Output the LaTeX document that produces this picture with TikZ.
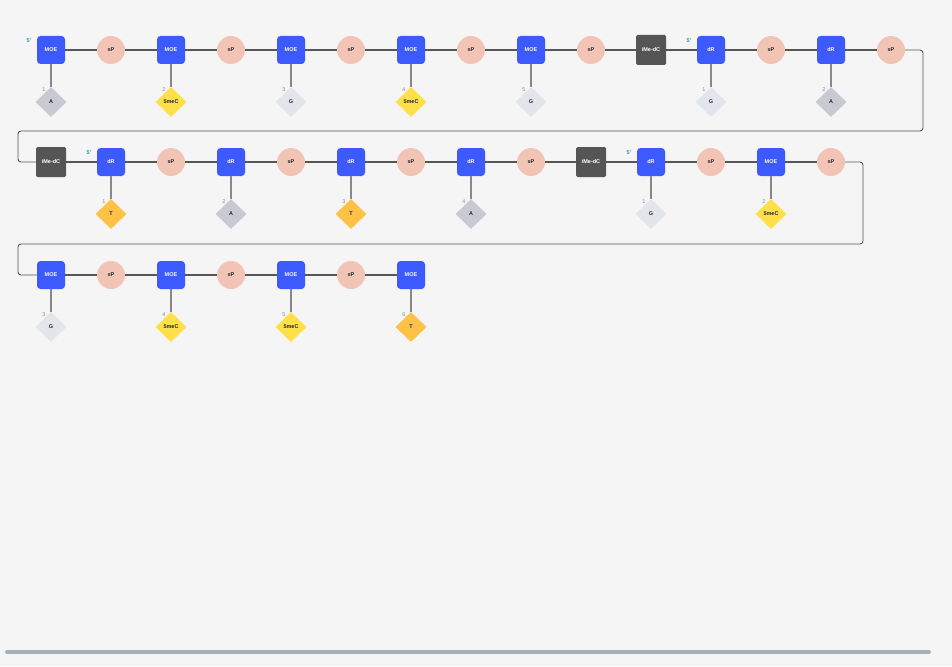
\documentclass[tikz,border=0pt]{standalone}
\usepackage{fontspec}
\setmainfont{Liberation Sans}
\usetikzlibrary{shapes.geometric}
\definecolor{bg}{HTML}{F5F5F5}
\definecolor{moe}{HTML}{3D5AFE}
\definecolor{spc}{HTML}{F2C4B5}
\definecolor{ime}{HTML}{555555}
\definecolor{baseA}{HTML}{C9C9D3}
\definecolor{baseG}{HTML}{E2E6EC}
\definecolor{baseC}{HTML}{FFE04A}
\definecolor{baseT}{HTML}{FFC247}
\definecolor{bb}{HTML}{555555}
\definecolor{stem}{HTML}{888888}
\definecolor{numc}{HTML}{8A8A8A}
\definecolor{teal}{HTML}{1E9AA6}
\definecolor{barc}{HTML}{A6B0B8}
\tikzset{
  lab/.style={font=\fontsize{5.5}{6}\selectfont\bfseries},
  sugar/.style={draw=none,fill=moe,rounded corners=3.5pt,minimum width=28pt,minimum height=28pt,inner sep=0pt,lab,text=white},
  imebox/.style={draw=none,fill=ime,rounded corners=1.5pt,minimum width=30pt,minimum height=30pt,inner sep=0pt,lab,text=white},
  link/.style={draw=none,fill=spc,circle,minimum size=28pt,inner sep=0pt,lab,text=black!85},
  base/.style={diamond,draw=none,minimum width=31pt,minimum height=30pt,inner sep=0pt,lab,text=black!85},
  bA/.style={base,fill=baseA},
  bG/.style={base,fill=baseG},
  bC/.style={base,fill=baseC},
  bT/.style={base,fill=baseT},
  bone/.style={draw=bb,line width=1.1pt},
  stemline/.style={draw=stem,line width=1.6pt},
  num/.style={font=\fontsize{5.5}{6}\selectfont,text=numc,inner sep=0pt},
  five/.style={font=\fontsize{5.5}{6}\selectfont\bfseries,text=teal,inner sep=0pt},
}
\begin{document}
\begin{tikzpicture}[x=1pt,y=-1pt]
\fill[bg] (0,0) rectangle (952,666);
\useasboundingbox (0,0) rectangle (952,666);
% Row 1
\node[sugar] (r1a) at (51,50) {MOE};
\node[link] (r1b) at (111,50) {sP};
\node[sugar] (r1c) at (171,50) {MOE};
\node[link] (r1d) at (231,50) {sP};
\node[sugar] (r1e) at (291,50) {MOE};
\node[link] (r1f) at (351,50) {sP};
\node[sugar] (r1g) at (411,50) {MOE};
\node[link] (r1h) at (471,50) {sP};
\node[sugar] (r1i) at (531,50) {MOE};
\node[link] (r1j) at (591,50) {sP};
\node[imebox] (r1k) at (651,50) {iMe-dC};
\node[sugar] (r1l) at (711,50) {dR};
\node[link] (r1m) at (771,50) {sP};
\node[sugar] (r1n) at (831,50) {dR};
\node[link] (r1o) at (891,50) {sP};
% Row 2
\node[imebox] (r2a) at (51,162) {iMe-dC};
\node[sugar] (r2b) at (111,162) {dR};
\node[link] (r2c) at (171,162) {sP};
\node[sugar] (r2d) at (231,162) {dR};
\node[link] (r2e) at (291,162) {sP};
\node[sugar] (r2f) at (351,162) {dR};
\node[link] (r2g) at (411,162) {sP};
\node[sugar] (r2h) at (471,162) {dR};
\node[link] (r2i) at (531,162) {sP};
\node[imebox] (r2j) at (591,162) {iMe-dC};
\node[sugar] (r2k) at (651,162) {dR};
\node[link] (r2l) at (711,162) {sP};
\node[sugar] (r2m) at (771,162) {MOE};
\node[link] (r2n) at (831,162) {sP};
% Row 3
\node[sugar] (r3a) at (51,275) {MOE};
\node[link] (r3b) at (111,275) {sP};
\node[sugar] (r3c) at (171,275) {MOE};
\node[link] (r3d) at (231,275) {sP};
\node[sugar] (r3e) at (291,275) {MOE};
\node[link] (r3f) at (351,275) {sP};
\node[sugar] (r3g) at (411,275) {MOE};
% backbone
\draw[bone] (r1a)--(r1b) (r1b)--(r1c) (r1c)--(r1d) (r1d)--(r1e) (r1e)--(r1f) (r1f)--(r1g) (r1g)--(r1h) (r1h)--(r1i) (r1i)--(r1j) (r1j)--(r1k) (r1k)--(r1l) (r1l)--(r1m) (r1m)--(r1n) (r1n)--(r1o);
\draw[bone] (r2a)--(r2b) (r2b)--(r2c) (r2c)--(r2d) (r2d)--(r2e) (r2e)--(r2f) (r2f)--(r2g) (r2g)--(r2h) (r2h)--(r2i) (r2i)--(r2j) (r2j)--(r2k) (r2k)--(r2l) (r2l)--(r2m) (r2m)--(r2n);
\draw[bone] (r3a)--(r3b) (r3b)--(r3c) (r3c)--(r3d) (r3d)--(r3e) (r3e)--(r3f) (r3f)--(r3g);
% wraps
\coordinate (w1a) at (923,131);
\coordinate (w1b) at (18,131);
\draw[draw=bb,line width=0.9pt,rounded corners=3pt] (r1o.east) -| (w1a) -- (w1b) |- (r2a.west);
\coordinate (w2a) at (863,244);
\coordinate (w2b) at (18,244);
\draw[draw=bb,line width=0.9pt,rounded corners=3pt] (r2n.east) -| (w2a) -- (w2b) |- (r3a.west);
% bases
\newcommand{\mybase}[4]{%
  \node[#2] (#1d) at ([yshift=-52pt]#1) {#3};
  \draw[stemline] (#1.south) -- (#1d.north);
  \node[num] (#1n) at ([xshift=-7pt,yshift=12pt]#1d) {#4};
}
\mybase{r1a}{bA}{A}{1}
\mybase{r1c}{bC}{5meC}{2}
\mybase{r1e}{bG}{G}{3}
\mybase{r1g}{bC}{5meC}{4}
\mybase{r1i}{bG}{G}{5}
\mybase{r1l}{bG}{G}{1}
\mybase{r1n}{bA}{A}{2}
\mybase{r2b}{bT}{T}{1}
\mybase{r2d}{bA}{A}{2}
\mybase{r2f}{bT}{T}{3}
\mybase{r2h}{bA}{A}{4}
\mybase{r2k}{bG}{G}{1}
\mybase{r2m}{bC}{5meC}{2}
\mybase{r3a}{bG}{G}{3}
\mybase{r3c}{bC}{5meC}{4}
\mybase{r3e}{bC}{5meC}{5}
\mybase{r3g}{bT}{T}{6}
% 5' labels
\node[five] (f1) at ([xshift=-22pt,yshift=9pt]r1a) {5'};
\node[five] (f2) at ([xshift=-22pt,yshift=9pt]r1l) {5'};
\node[five] (f3) at ([xshift=-22pt,yshift=9pt]r2b) {5'};
\node[five] (f4) at ([xshift=-22pt,yshift=9pt]r2k) {5'};
% bottom bar
\coordinate (bar1) at (7,652);
\coordinate (bar2) at (929,652);
\draw[barc,line width=4pt,line cap=round] (bar1) -- (bar2);
\end{tikzpicture}
\end{document}
